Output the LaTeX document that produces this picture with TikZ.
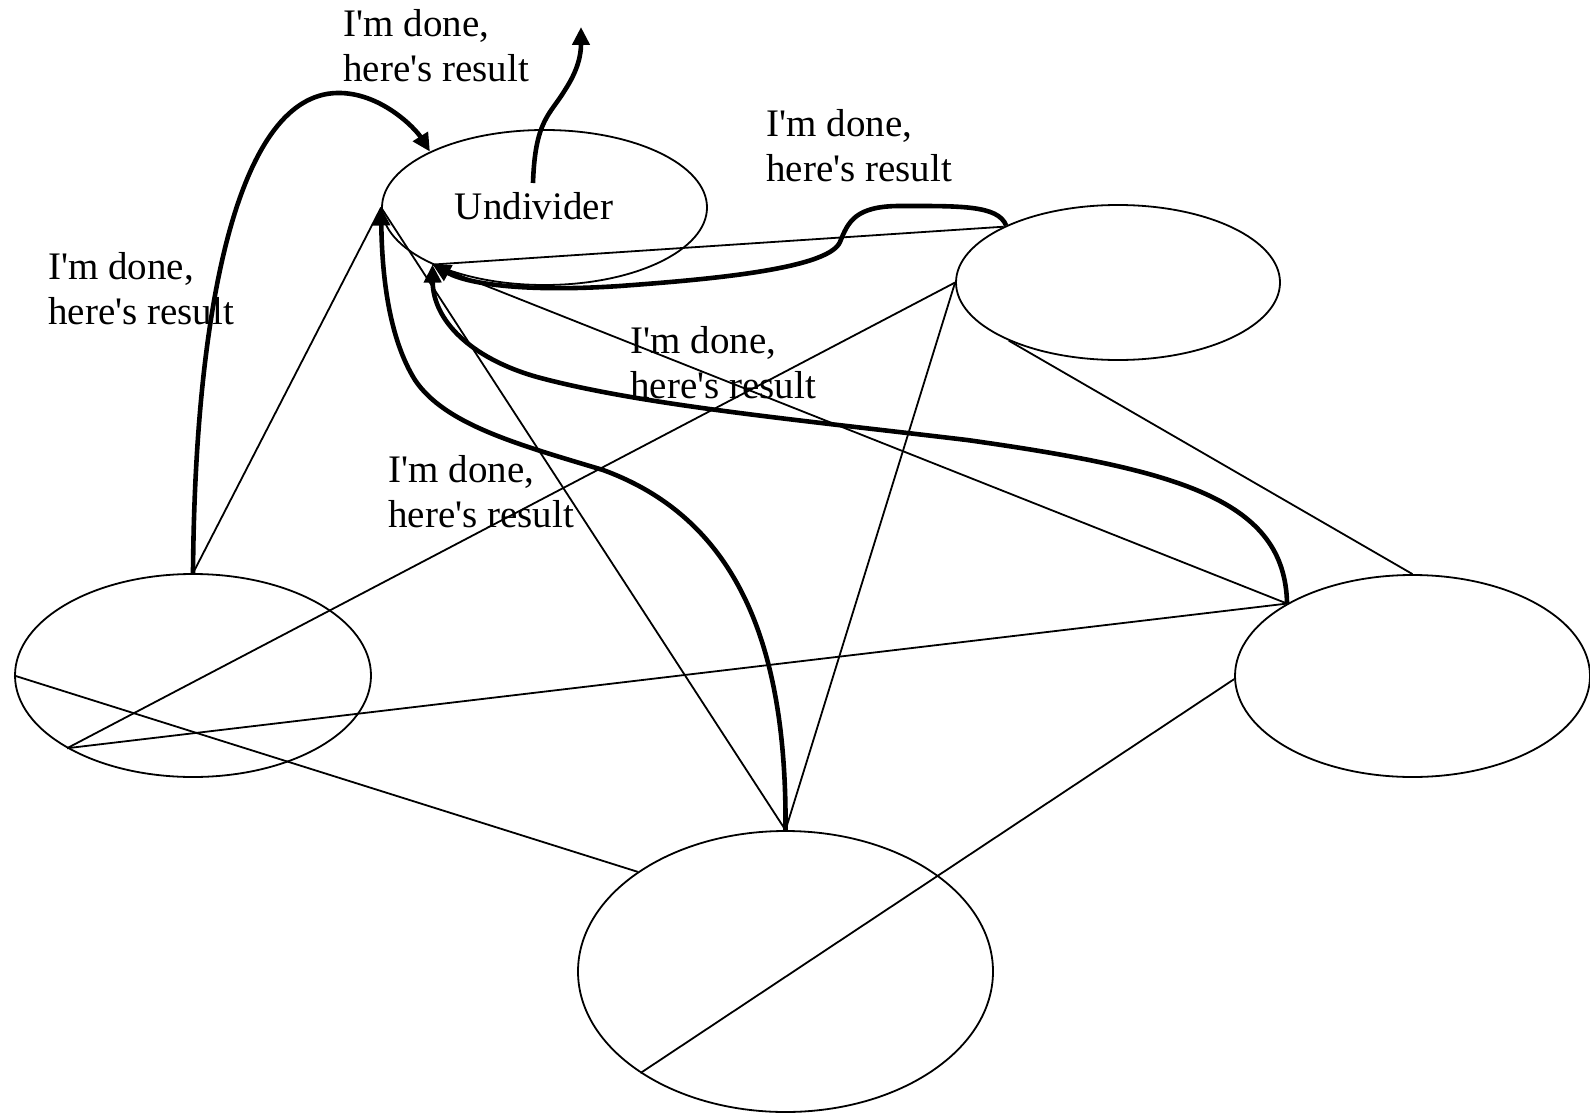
\documentclass[tikz,border=0pt]{standalone}
\usepackage{fontspec}
\setmainfont{Liberation Serif}[Ligatures=TeXOff]
\usetikzlibrary{shapes.geometric,arrows.meta}

\tikzset{
  blob/.style={ellipse, draw, line width=0.9pt, inner sep=0pt},
  link/.style={line width=0.9pt},
  reply/.style={line width=2.3pt, -{Triangle[length=9pt,width=8.5pt]}},
  note/.style={align=left, inner sep=0pt, anchor=base west,
               font=\fontsize{19.5pt}{22.5pt}\selectfont},
}

\begin{document}
\begin{tikzpicture}[x=0.5pt, y=-0.5pt]
  \useasboundingbox (0,0) rectangle (1590,1113);

  % the five workers
  \node[blob, minimum width=162.5pt, minimum height=77.5pt] (und) at (544.5,207.5) {};
  \node[blob, minimum width=162pt,   minimum height=77.5pt] (tr)  at (1118,282.5) {};
  \node[blob, minimum width=178pt,   minimum height=101.5pt] (lft) at (193,675.5) {};
  \node[blob, minimum width=177.5pt, minimum height=101pt]  (rgt) at (1412.5,676) {};
  \node[blob, minimum width=207.5pt, minimum height=140.5pt] (bot) at (785.5,971.5) {};

  \node[anchor=base, inner sep=0pt, font=\fontsize{19.5pt}{22.5pt}\selectfont]
       (undtext) at (534,220) {Undivider};

  % every pair of workers is linked
  \draw[link] (lft.north) -- (und.180);
  \draw[link] (und.180) -- (bot.north);
  \draw[link] (und.207) -- (rgt.150);
  \draw[link] (und.207) -- (tr.154);
  \draw[link] (tr.west) -- (lft.210);
  \draw[link] (tr.west) -- (bot.north);
  \draw[link] (tr.208) -- (rgt.north);
  \draw[link] (lft.west) -- (bot.146);
  \draw[link] (lft.210) -- (rgt.150);
  \draw[link] (bot.215) -- (rgt.181);

  % results sent back to the undivider
  \draw[reply] (lft.north) .. controls (195,300) and (240,95) .. (337,93)
               .. controls (380,92) and (415,128) .. (und.154);

  \draw[reply] (tr.153) .. controls (998,205) and (960,206) .. (900,206)
               .. controls (855,206) and (848,222) .. (840,242)
               .. controls (828,270) and (700,280) .. (620,286)
               .. controls (530,292) and (470,285) .. (und.207);

  \draw[reply] (rgt.150) .. controls (1285,500) and (1180,470) .. (967,440)
               .. controls (800,420) and (640,405) .. (537,377)
               .. controls (470,358) and (433,320) .. (und.207);

  \draw[reply] (bot.north) .. controls (787,650) and (740,520) .. (603,470)
               .. controls (520,445) and (445,425) .. (415,380)
               .. controls (390,340) and (382,280) .. (und.180);

  % final result leaves the undivider
  \coordinate (start) at ([shift={(-11.5,-24.5)}]und.center);
  \coordinate (out) at (581,27);
  \draw[reply] (start) .. controls (535,120) and (550,115) .. (565,90)
               .. controls (578,70) and (581,55) .. (out);

  % labels (anchored at the baseline of their second line)
  \node[note] (msgA) at (343,82)  {I'm done,\\here's result};
  \node[note] (msgB) at (766,181) {I'm done,\\here's result};
  \node[note] (msgC) at (48,324)  {I'm done,\\here's result};
  \node[note] (msgD) at (630,398) {I'm done,\\here's result};
  \node[note] (msgE) at (388,527) {I'm done,\\here's result};
\end{tikzpicture}
\end{document}
